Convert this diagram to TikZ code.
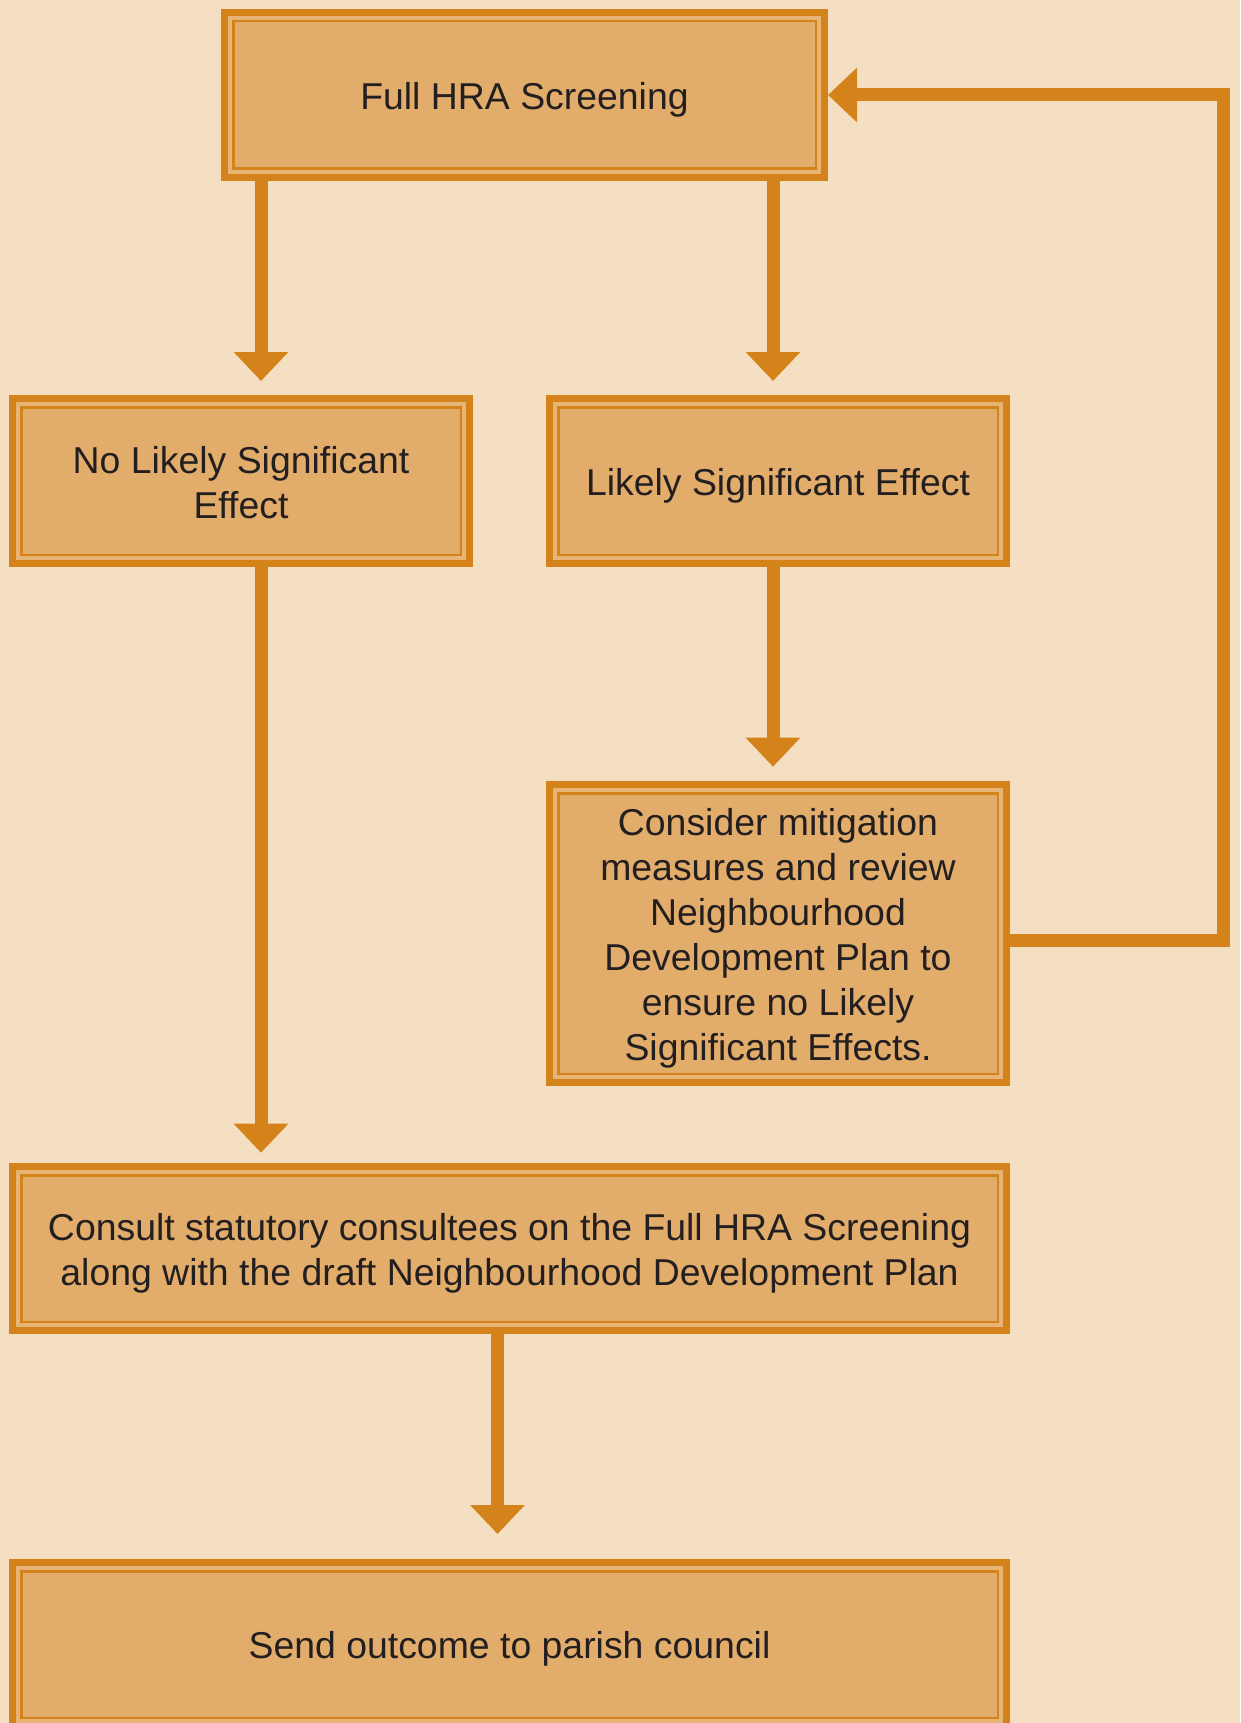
\documentclass[tikz,border=0pt]{standalone}
\usepackage{fontspec}
\setmainfont{Liberation Sans}
\usetikzlibrary{arrows.meta}
\definecolor{bg}{HTML}{F5DFC3}
\definecolor{bord}{HTML}{D3831A}
\definecolor{band}{HTML}{E6B575}
\definecolor{boxfill}{HTML}{E2AD6B}
\definecolor{txt}{HTML}{231F20}
\newcommand{\lift}[1]{\rule{0pt}{#1}}
\begin{document}
\begin{tikzpicture}[x=1pt,y=-1pt,
  flowbox/.style={draw=bord, line width=7pt, fill=band, text=txt, align=center,
    inner sep=0pt, font=\fontsize{37.4}{45}\selectfont,
    path picture={\draw[bord,line width=2.5pt,fill=boxfill]
      ([shift={(8.75pt,-8.75pt)}]path picture bounding box.north west) rectangle
      ([shift={(-8.75pt,8.75pt)}]path picture bounding box.south east);}},
  flow/.style={draw=bord, line width=13pt, -{Triangle[width=53pt,length=29pt]}}]
\fill[bg] (0,0) rectangle (1240,1723);
\useasboundingbox (0,0) rectangle (1240,1723);

\node[flowbox, minimum width=600pt, minimum height=165pt] (top) at (524.5,95) {\lift{36pt}Full HRA Screening};
\node[flowbox, minimum width=457pt, minimum height=165pt] (nolse) at (241,481) {\lift{29.5pt}No Likely Significant\\Effect};
\node[flowbox, minimum width=457pt, minimum height=165pt] (lse) at (778,481) {\lift{36pt}Likely Significant Effect};
\node[flowbox, minimum width=457pt, minimum height=298pt] (mit) at (778,933.5) {\lift{36pt}Consider mitigation\\measures and review\\Neighbourhood\\Development Plan to\\ensure no Likely\\Significant Effects.};
\node[flowbox, minimum width=994pt, minimum height=164pt] (cons) at (509.5,1248.5) {\lift{36pt}Consult statutory consultees on the Full HRA Screening\\along with the draft Neighbourhood Development Plan};
\node[flowbox, minimum width=994pt, minimum height=164pt] (send) at (509.5,1644.5) {\lift{36pt}Send outcome to parish council};

\coordinate (a1) at ([xshift=20pt]nolse.north);
\coordinate (a2) at ([xshift=-5pt]lse.north);
\coordinate (a3) at ([xshift=-5pt]mit.north);
\coordinate (a4) at ([xshift=20pt]nolse.south);
\coordinate (a5) at ([xshift=-12pt]send.north);
\coordinate (fb) at (1223,95);

\draw[flow] (a1 |- top.south) -- ([yshift=14pt]a1);
\draw[flow] (a2 |- top.south) -- ([yshift=14pt]a2);
\draw[flow] (a3 |- lse.south) -- ([yshift=14.3pt]a3);
\draw[flow] (a4) -- ([yshift=10.3pt]a4 |- cons.north);
\draw[flow] (a5 |- cons.south) -- ([yshift=25pt]a5);
\draw[flow] ([yshift=-6.5pt]mit.east) -| (fb) -- (top.east);
\end{tikzpicture}
\end{document}
